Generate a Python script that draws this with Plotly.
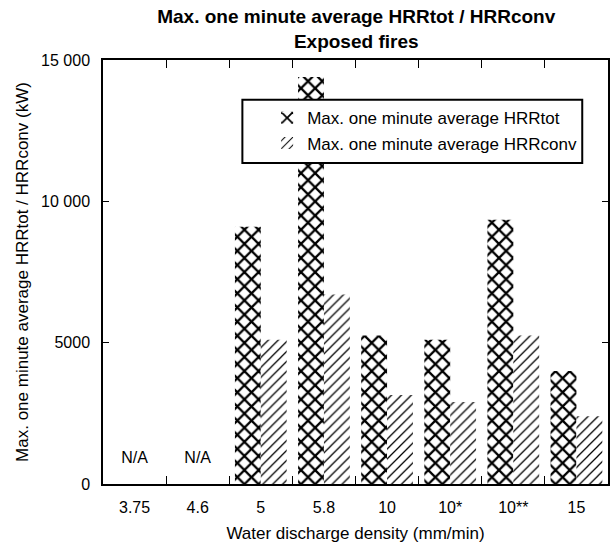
import plotly.graph_objects as go

categories = ["3.75", "4.6", "5", "5.8", "10", "10*", "10**", "15"]
hrr_tot = [None, None, 9100, 14400, 5250, 5100, 9350, 4000]
hrr_conv = [None, None, 5100, 6700, 3150, 2900, 5250, 2400]
na_categories = ["3.75", "4.6"]
na_labels = ["N/A", "N/A"]
na_level = [880, 880]
y_ticks = [0, 5000, 10000, 15000]
y_ticktext = ["0", "5000", "10 000", "15 000"]

FONT = "Liberation Sans, Arial, Helvetica, sans-serif"

fig = go.Figure()
fig.add_trace(go.Bar(
    x=categories, y=hrr_tot, name="Max. one minute average HRRtot",
    marker=dict(color="white", line=dict(width=0),
                pattern=dict(shape="x", fgcolor="black", bgcolor="white",
                             size=10, solidity=0.4, fillmode="replace")),
))
fig.add_trace(go.Bar(
    x=categories, y=hrr_conv, name="Max. one minute average HRRconv",
    marker=dict(color="white", line=dict(width=0),
                pattern=dict(shape="/", fgcolor="black", bgcolor="white",
                             size=7, solidity=0.18, fillmode="replace")),
))
fig.add_trace(go.Scatter(
    x=na_categories, y=na_level, text=na_labels,
    mode="text", textfont=dict(size=16, color="black", family=FONT),
    showlegend=False, hoverinfo="skip",
))

# legend frame
fig.add_shape(type="rect", xref="paper", yref="paper",
              x0=0.276, x1=0.949, y0=0.757, y1=0.906,
              line=dict(color="black", width=2), fillcolor="white", layer="above")

fig.update_layout(
    width=610, height=547,
    margin=dict(l=103, r=0, t=60, b=63),
    paper_bgcolor="white", plot_bgcolor="white",
    font=dict(family=FONT, size=16, color="black"),
    barmode="group", bargap=0.18, bargroupgap=0,
    title=dict(text="<b>Max. one minute average HRRtot / HRRconv<br>Exposed fires</b>",
               x=0.584, xanchor="center", y=0.958, yanchor="top",
               font=dict(size=19, family=FONT, color="black")),
    legend=dict(x=0.325, y=0.905, xanchor="left", yanchor="top",
                borderwidth=0, bgcolor="rgba(0,0,0,0)",
                font=dict(size=17, family=FONT), tracegroupgap=4,
                itemwidth=30),
    showlegend=True,
)
fig.update_xaxes(
    type="category", categoryorder="array", categoryarray=categories,
    showline=True, linecolor="black", linewidth=1.5, mirror="ticks",
    ticks="inside", ticklen=8, tickcolor="black", tickson="boundaries",
    showgrid=False, tickfont=dict(size=16), ticklabelstandoff=8,
    title=dict(text="Water discharge density (mm/min)", font=dict(size=17), standoff=12),
)
fig.update_yaxes(
    range=[0, 15000], tickvals=y_ticks, ticktext=y_ticktext,
    showline=True, linecolor="black", linewidth=1.5, mirror="ticks",
    ticks="inside", ticklen=6, tickcolor="black", showgrid=False, zeroline=False,
    tickfont=dict(size=16), ticklabelstandoff=8,
    title=dict(text="Max. one minute average HRRtot / HRRconv (kW)", font=dict(size=17), standoff=8),
)

fig.write_html("out.html")
